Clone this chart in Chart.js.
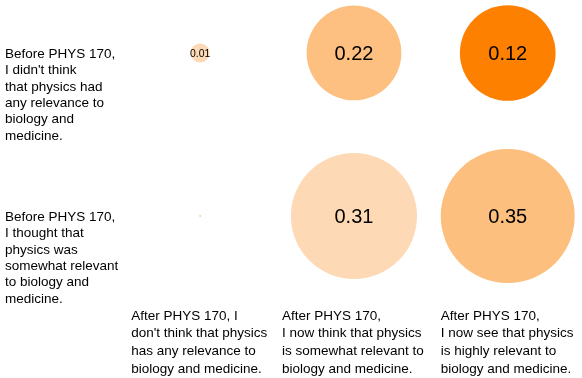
<!DOCTYPE html>
<html>
<head>
<meta charset="utf-8">
<script src="https://cdn.jsdelivr.net/npm/chart.js@4.4.1/dist/chart.umd.min.js"></script>
<style>
  html, body { margin: 0; padding: 0; background: #fff; }
  #wrap { width: 582px; height: 378px; }
</style>
</head>
<body>
<div id="wrap"><canvas id="physChart"></canvas></div>
<script>
// rows: attitude before the course, columns: attitude after
const rowLabels = [
  ['Before PHYS 170,', 'I didn\'t think', 'that physics had', 'any relevance to', 'biology and', 'medicine.'],
  ['Before PHYS 170,', 'I thought that', 'physics was', 'somewhat relevant', 'to biology and', 'medicine.']
];
const colLabels = [
  ['After PHYS 170, I', 'don\'t think that physics', 'has any relevance to', 'biology and medicine.'],
  ['After PHYS 170,', 'I now think that physics', 'is somewhat relevant to', 'biology and medicine.'],
  ['After PHYS 170,', 'I now see that physics', 'is highly relevant to', 'biology and medicine.']
];
// fraction of students in each cell
const shares = [
  [0.01, 0.22, 0.12],
  [0.00, 0.31, 0.35]
];
// relative bubble area
const sizeWeight = [
  [0.02, 0.50, 0.51],
  [0.0003, 0.885, 1.0]
];
const fills = [
  ['#fdd9b5', '#fdc080', '#fe8000'],
  ['#fdd9b5', '#fdd9b5', '#fdbf7e']
];

const maxRadius = 67;
const points = [];
const colors = [];
shares.forEach(function(row, r) {
  row.forEach(function(v, c) {
    points.push({ x: c + 1, y: 2 - r, r: maxRadius * Math.sqrt(sizeWeight[r][c]), v: v });
    colors.push(fills[r][c]);
  });
});

const FONT = '"Liberation Sans", Arial, Helvetica, sans-serif';

const labelPlugin = {
  id: 'cellLabels',
  afterDatasetsDraw(chart) {
    const ctx = chart.ctx;
    const meta = chart.getDatasetMeta(0);
    ctx.save();
    ctx.fillStyle = '#000';
    ctx.textAlign = 'center';
    ctx.textBaseline = 'middle';
    meta.data.forEach(function(el, i) {
      const p = points[i];
      if (p.v < 0.005) return;
      const size = Math.min(20, p.r * 1.1);
      ctx.font = size + 'px ' + FONT;
      ctx.fillText(p.v.toFixed(2), el.x, el.y + 1);
    });

    const xs = chart.scales.x, ys = chart.scales.y;
    ctx.font = '13.5px ' + FONT;
    ctx.textAlign = 'left';
    rowLabels.forEach(function(lines, r) {
      const y0 = ys.getPixelForValue(2 - r) + 1;
      lines.forEach(function(t, k) { ctx.fillText(t, 5, y0 + k * 16.4); });
    });
    const shift = [-69, -72, -67];
    colLabels.forEach(function(lines, c) {
      const x0 = xs.getPixelForValue(c + 1) + shift[c];
      const y0 = chart.chartArea.bottom + 16;
      lines.forEach(function(t, k) { ctx.fillText(t, x0, y0 + k * 17.6); });
    });
    ctx.restore();
  }
};

new Chart(document.getElementById('physChart'), {
  type: 'bubble',
  data: {
    datasets: [{
      data: points,
      backgroundColor: colors,
      borderWidth: 0,
      clip: false
    }]
  },
  options: {
    responsive: true,
    maintainAspectRatio: false,
    animation: false,
    events: [],
    layout: { autoPadding: false, padding: { left: 131, right: 2, top: 0, bottom: 78 } },
    plugins: { legend: { display: false }, tooltip: { enabled: false } },
    scales: {
      x: { type: 'linear', min: 0.55, max: 3.47, display: false },
      y: { type: 'linear', min: 0.485, max: 2.325, display: false }
    }
  },
  plugins: [labelPlugin]
});
</script>
</body>
</html>
